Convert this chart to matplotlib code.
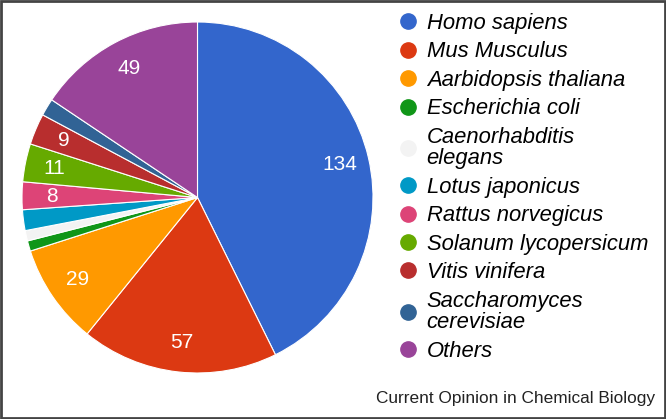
import matplotlib.pyplot as plt
from matplotlib.lines import Line2D

species = ['Homo sapiens', 'Mus Musculus', 'Aarbidopsis thaliana', 'Escherichia coli',
           'Caenorhabditis\nelegans', 'Lotus japonicus', 'Rattus norvegicus',
           'Solanum lycopersicum', 'Vitis vinifera', 'Saccharomyces\ncerevisiae', 'Others']
counts = [134, 57, 29, 3, 3, 6, 8, 11, 9, 5, 49]
colors = ['#3366cc', '#dc3912', '#ff9900', '#109618', '#f3f3f3', '#0099c6',
          '#dd4477', '#66aa00', '#b82e2e', '#316395', '#994499']
min_label = 8  # slices smaller than this get no number

fig = plt.figure(figsize=(6.66, 4.19), dpi=100)
ax = fig.add_axes([22 / 666, 1 - 373 / 419, 351 / 666, 351 / 419])

def show_value(pct):
    v = round(pct * sum(counts) / 100)
    return str(v) if v >= min_label else ''

wedges, texts, autotexts = ax.pie(counts, colors=colors, startangle=90, counterclock=False,
                                  autopct=show_value, pctdistance=0.83, radius=1.0,
                                  wedgeprops=dict(edgecolor='white', linewidth=0.8),
                                  textprops=dict(color='white', fontsize=15,
                                                 family='Liberation Sans'))
ax.set_xlim(-1, 1)
ax.set_ylim(-1, 1)
ax.set_aspect('equal')

handles = [Line2D([], [], marker='o', linestyle='none', markersize=11,
                  markerfacecolor=c, markeredgecolor=c) for c in colors]
leg = fig.legend(handles, species, loc='upper left', bbox_to_anchor=(397 / 666, 1 - 13 / 419),
                 frameon=False, handletextpad=0.35, labelspacing=0.34, handlelength=1.0,
                 borderpad=0.0, borderaxespad=0.0,
                 prop=dict(family='Liberation Sans', style='italic', size=15.8))
for t in leg.get_texts():
    t.set_linespacing(1.03)

fig.text(655 / 666, 1 - 398 / 419, 'Current Opinion in Chemical Biology', ha='right',
         va='center', fontsize=12.4, family='Liberation Sans', color='#222222')

# dark frame around the whole picture
fig.patches.append(plt.Rectangle((0.002, 0.002), 0.996, 0.995, transform=fig.transFigure,
                                 fill=False, edgecolor='#444444', linewidth=2))

fig.savefig('out.png', dpi=100)
